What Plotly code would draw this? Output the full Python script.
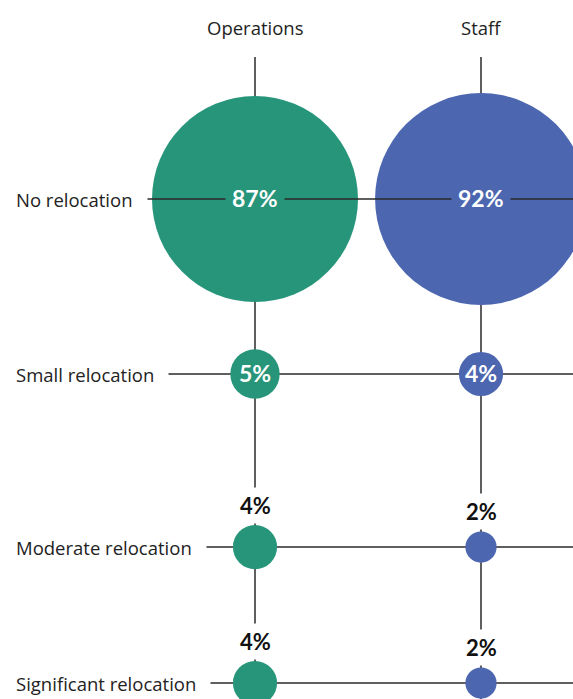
import plotly.graph_objects as go
import math

# ---- data ----
columns = ["Operations", "Staff"]
rows = ["No relocation", "Small relocation", "Moderate relocation", "Significant relocation"]
operations = [87, 5, 4, 4]
staff = [92, 4, 2, 2]

# ---- layout / style config ----
col_colors = ["#26957A", "#4C66B0"]
row_pos = [0.0, 1.0, 1.989, 2.766]          # vertical placement of rows (uneven spacing)
label_inside = [True, True, False, False]   # where percent labels go
W, H = 573, 699
px_per_x = 226.0
px_per_y = 175.0
x0_px, y0_px = 255.0, 199.0
sizeref = 2 * 87 / 206.0 ** 2
line_color = "#2a2a2a"
text_font = "Open Sans"
num_font = "Lato"

values = [operations, staff]

fig = go.Figure()

def radius_px(v):
    return math.sqrt(2 * v / sizeref) / 2

label_left = 15 / W

shapes = []
# vertical lines (below bubbles)
for ci, c in enumerate(columns):
    shapes.append(dict(type="line", xref="x", yref="paper", x0=ci, x1=ci,
                       y0=1 - 57 / H, y1=0, layer="below",
                       line=dict(color=line_color, width=1.5)))
# horizontal lines
for ri, r in enumerate(rows):
    shapes.append(dict(type="line", xref="paper", yref="y", x0=label_left, x1=1,
                       y0=row_pos[ri], y1=row_pos[ri],
                       layer="above" if ri == 0 else "below",
                       line=dict(color=line_color, width=1.5)))

for ci, c in enumerate(columns):
    fig.add_trace(go.Scatter(
        x=[ci] * len(rows), y=row_pos, mode="markers",
        marker=dict(size=values[ci], sizemode="area", sizeref=sizeref,
                    color=col_colors[ci], line=dict(width=0), opacity=1),
        hoverinfo="skip", showlegend=False, cliponaxis=False))

annotations = []
# column headers
for ci, c in enumerate(columns):
    annotations.append(dict(x=ci, y=1 - 27 / H, xref="x", yref="paper", text=c,
                            showarrow=False, xanchor="center", yanchor="middle",
                            font=dict(family=text_font, size=18.5, color="#222")))
# row labels (white box hides the start of the line)
pad = 14
for ri, r in enumerate(rows):
    annotations.append(dict(x=label_left, y=row_pos[ri], xref="paper", yref="y", text=r,
                            showarrow=False, xanchor="left", yanchor="middle",
                            xshift=-pad, bgcolor="white", borderpad=pad,
                            font=dict(family=text_font, size=18.5, color="#222")))
# value labels
for ci, c in enumerate(columns):
    for ri, r in enumerate(rows):
        v = values[ci][ri]
        txt = "<b>%d%%</b>" % v
        if label_inside[ri]:
            annotations.append(dict(x=ci, y=row_pos[ri], xref="x", yref="y", text=txt,
                                    showarrow=False, xanchor="center", yanchor="middle",
                                    bgcolor=col_colors[ci] if ri == 0 else None,
                                    borderpad=6, yshift=1,
                                    font=dict(family=num_font, size=23, color="white")))
        else:
            annotations.append(dict(x=ci, y=row_pos[ri], xref="x", yref="y", text=txt,
                                    showarrow=False, xanchor="center", yanchor="bottom",
                                    yshift=radius_px(v) + 1, bgcolor="white", borderpad=4,
                                    font=dict(family=num_font, size=22, color="#111")))

fig.update_layout(
    width=W, height=H, margin=dict(l=0, r=0, t=0, b=0),
    paper_bgcolor="white", plot_bgcolor="white",
    xaxis=dict(range=[-x0_px / px_per_x, (W - x0_px) / px_per_x], visible=False, fixedrange=True),
    yaxis=dict(range=[(H - y0_px) / px_per_y, -y0_px / px_per_y], visible=False, fixedrange=True),
    shapes=shapes, annotations=annotations,
)

fig.write_html("out.html", config={"displayModeBar": False},
               post_script="document.body.style.margin='0';document.body.style.overflow='hidden';")
